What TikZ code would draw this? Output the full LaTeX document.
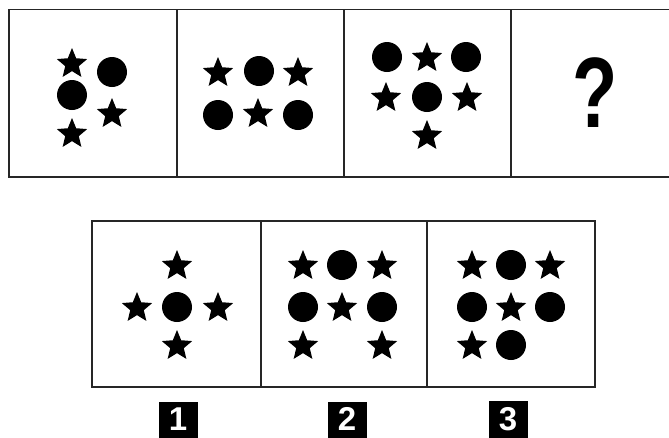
\documentclass[tikz,border=0pt]{standalone}
\usepackage{fontspec}
\setmainfont{Liberation Sans}
\usetikzlibrary{shapes.geometric}
\begin{document}
\begin{tikzpicture}[x=1pt,y=-1pt,
  frame/.style={draw=black!85,line width=1.7pt},
  st/.style={star,star points=5,star point ratio=2.25,fill=black,draw=none,minimum size=32pt,inner sep=0pt},
  dot/.style={circle,fill=black,draw=none,minimum size=30pt,inner sep=0pt},
  labbox/.style={fill=black,draw=none,minimum width=39pt,minimum height=42pt,inner sep=0pt,anchor=north},
  lab/.style={text=white,inner sep=0pt,anchor=base,font=\bfseries\fontsize{33}{33}\selectfont}]
\useasboundingbox (0,0) rectangle (669,437);
\clip (0,0) rectangle (669,437);
% top row
\draw[frame] (9,9.5) rectangle (700,177);
\draw[frame] (177,9.5) -- (177,177);
\draw[frame] (344,9.5) -- (344,177);
\draw[frame] (511,9.5) -- (511,177);
% cell 1
\node[st] (a1) at (72,64) {};
\node[dot] (a2) at (112,72) {};
\node[dot] (a3) at (72,95) {};
\node[st] (a4) at (112,114) {};
\node[st] (a5) at (72,134) {};
% cell 2
\node[st] (b1) at (218,73) {};
\node[dot] (b2) at (259,71) {};
\node[st] (b3) at (298,73) {};
\node[dot] (b4) at (218,115) {};
\node[st] (b5) at (258,114) {};
\node[dot] (b6) at (298,115) {};
% cell 3
\node[dot] (c1) at (387,57) {};
\node[st] (c2) at (427,58) {};
\node[dot] (c3) at (466,57) {};
\node[st] (c4) at (386,98) {};
\node[dot] (c5) at (427,97) {};
\node[st] (c6) at (467,98) {};
\node[st] (c7) at (427,136) {};
% question mark
\node[inner sep=0pt,anchor=base,xscale=0.74,font=\bfseries\fontsize{100}{100}\selectfont] (q) at (595,127) {?};
% bottom row
\draw[frame] (92,221) rectangle (595,387);
\draw[frame] (261,221) -- (261,387);
\draw[frame] (427,221) -- (427,387);
% option 1
\node[st] (d1) at (177,266) {};
\node[st] (d2) at (137,308) {};
\node[dot] (d3) at (177,307) {};
\node[st] (d4) at (218,308) {};
\node[st] (d5) at (177,346) {};
% option 2
\node[st] (e1) at (303,266) {};
\node[dot] (e2) at (342,265) {};
\node[st] (e3) at (382,266) {};
\node[dot] (e4) at (303,307) {};
\node[st] (e5) at (342,308) {};
\node[dot] (e6) at (382,307) {};
\node[st] (e7) at (303,346) {};
\node[st] (e8) at (382,346) {};
% option 3
\node[st] (f1) at (472,266) {};
\node[dot] (f2) at (511,265) {};
\node[st] (f3) at (550,266) {};
\node[dot] (f4) at (472,307) {};
\node[st] (f5) at (511,308) {};
\node[dot] (f6) at (550,307) {};
\node[st] (f7) at (472,346) {};
\node[dot] (f8) at (511,345) {};
% labels
\node[labbox] (s1) at (178,402) {};
\node[labbox] (s2) at (347,402) {};
\node[labbox] (s3) at (508,401) {};
\node[lab] (l1) at (178,430) {1};
\node[lab] (l2) at (347,430) {2};
\node[lab] (l3) at (508,430) {3};
\end{tikzpicture}
\end{document}
